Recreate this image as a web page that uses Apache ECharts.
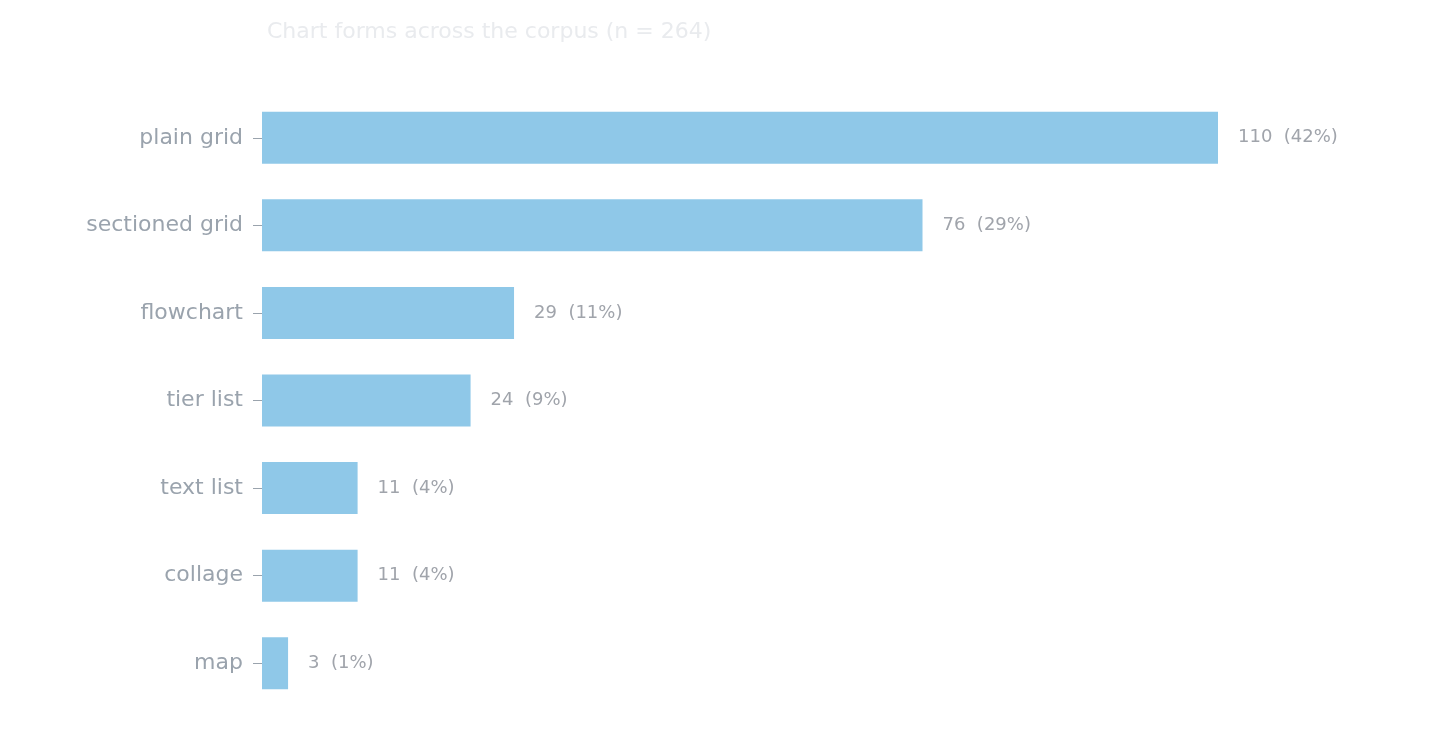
<!DOCTYPE html><html><head><meta charset="utf-8"><script src="https://cdn.jsdelivr.net/npm/echarts@6/dist/echarts.min.js"></script>
<style>html,body{margin:0;background:#fff}#c{width:1429px;height:738px}</style></head><body><div id="c"></div><script>
const categories=["plain grid","sectioned grid","flowchart","tier list","text list","collage","map"];
const counts=[110,76,29,24,11,11,3];
const percents=[42,29,11,9,4,4,1];
const ch=echarts.init(document.getElementById('c'));
ch.setOption({
 animation:false,
 title:{text:'Chart forms across the corpus (n = 264)',left:262,top:16,textStyle:{color:'#e9ebee',fontSize:22,fontWeight:'normal',fontFamily:'DejaVu Sans'}},
 grid:{left:262,right:211,top:94,bottom:31,containLabel:false},
 xAxis:{type:'value',min:0,max:110,show:false},
 yAxis:{type:'category',inverse:true,data:categories,axisLine:{show:false},
  axisTick:{show:true,alignWithLabel:true,length:9,lineStyle:{color:'#9aa3ad'}},
  axisLabel:{color:'#9aa3ad',fontSize:22,fontFamily:'DejaVu Sans',margin:19}},
 series:[{type:'bar',data:counts,barWidth:52,itemStyle:{color:'#8fc8e8'},
  label:{show:true,position:'right',distance:20,color:'#a0a4ab',fontSize:18,fontFamily:'DejaVu Sans',
   formatter:p=>p.value+'  ('+percents[p.dataIndex]+'%)'}}]
});
</script></body></html>
